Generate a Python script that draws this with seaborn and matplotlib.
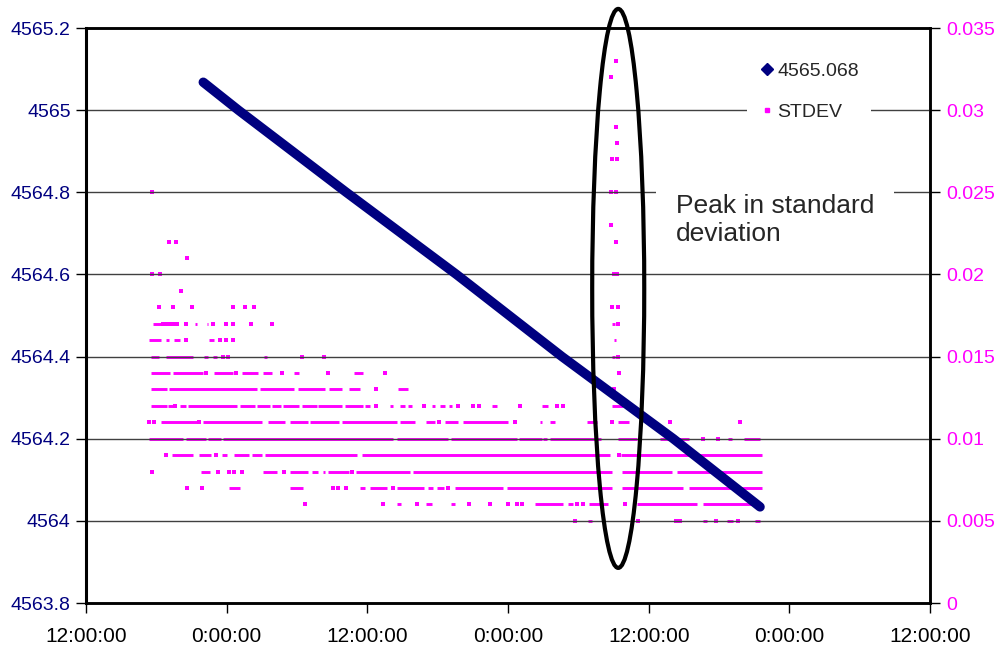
import matplotlib
matplotlib.use("Agg")
import matplotlib.pyplot as plt
import seaborn as sns
import pandas as pd
from matplotlib.patches import Ellipse
from matplotlib.lines import Line2D
from matplotlib.ticker import FuncFormatter

sns.set_style("white")
plt.rcParams["font.family"] = ["Liberation Sans", "DejaVu Sans"]

NAVY = "#000080"
MAGENTA = "#ff00ff"

# hours after the first 12:00:00 tick
pos_hours = [10.0, 13.0, 22.2, 31.6, 40.6, 50.1, 57.5]
pos_value = [4565.068, 4565.0, 4564.8, 4564.6, 4564.4, 4564.2, 4564.034]

# STDEV: (level, start hour, end hour) where samples sit continuously
stdev_runs = [
    (0.017, 5.7, 6.4), (0.017, 9.3, 9.5), (0.017, 10.3, 10.4), (0.017, 44.9, 45.1),
    (0.016, 5.4, 6.4), (0.016, 6.8, 7.1), (0.016, 7.5, 8.0), (0.016, 10.5, 10.9), (0.016, 45.0, 45.2),
    (0.015, 5.5, 6.2), (0.015, 6.8, 9.1), (0.015, 10.1, 10.4), (0.015, 10.8, 11.2), (0.015, 15.2, 15.4),
    (0.015, 44.9, 45.1),
    (0.014, 5.5, 7.2), (0.014, 7.4, 10.0), (0.014, 10.9, 12.5), (0.014, 13.3, 14.7), (0.014, 15.1, 15.9),
    (0.014, 17.7, 18.2), (0.014, 22.9, 23.6),
    (0.013, 5.5, 6.9), (0.013, 7.1, 14.6), (0.013, 14.8, 17.7), (0.013, 18.1, 20.4), (0.013, 20.7, 21.8),
    (0.013, 22.4, 23.4), (0.013, 26.6, 27.5),
    (0.012, 5.5, 6.9), (0.012, 7.0, 7.4), (0.012, 8.0, 8.5), (0.012, 8.7, 12.9), (0.012, 13.1, 14.4),
    (0.012, 14.6, 15.7), (0.012, 15.9, 16.6), (0.012, 16.8, 18.2), (0.012, 18.4, 19.7), (0.012, 19.8, 21.8),
    (0.012, 22.1, 23.6), (0.012, 23.8, 24.2), (0.012, 25.9, 26.2), (0.012, 26.8, 27.2), (0.012, 27.5, 27.8),
    (0.012, 29.5, 29.8), (0.012, 30.2, 30.6), (0.012, 31.0, 31.2), (0.012, 34.6, 35.1), (0.012, 38.9, 39.4),
    (0.012, 44.9, 45.8),
    (0.011, 6.4, 9.5), (0.011, 10.0, 15.0), (0.011, 15.5, 17.0), (0.011, 17.4, 18.9), (0.011, 19.1, 21.6),
    (0.011, 21.8, 26.5), (0.011, 26.8, 28.1), (0.011, 29.0, 29.8), (0.011, 30.6, 31.7), (0.011, 32.2, 36.0),
    (0.011, 38.7, 38.9), (0.011, 39.6, 40.0), (0.011, 42.7, 43.6), (0.011, 45.4, 46.3),
    (0.010, 5.4, 8.3), (0.010, 8.5, 10.2), (0.010, 10.4, 11.5), (0.010, 11.7, 26.2), (0.010, 26.5, 30.9),
    (0.010, 31.1, 36.8), (0.010, 36.9, 38.9), (0.010, 39.0, 39.3), (0.010, 39.6, 43.9), (0.010, 45.4, 47.0),
    (0.010, 49.0, 50.0), (0.010, 50.6, 51.4), (0.010, 54.8, 55.1), (0.010, 56.1, 57.5),
    (0.009, 7.3, 9.1), (0.009, 9.6, 10.7), (0.009, 11.6, 12.0), (0.009, 12.6, 13.9), (0.009, 14.2, 15.0),
    (0.009, 15.3, 23.1), (0.009, 23.5, 44.7), (0.009, 45.6, 57.7),
    (0.008, 9.8, 10.6), (0.008, 15.1, 16.3), (0.008, 17.4, 18.9), (0.008, 19.3, 19.8), (0.008, 20.2, 20.4),
    (0.008, 20.6, 22.4), (0.008, 23.0, 27.6), (0.008, 27.9, 44.9), (0.008, 45.7, 50.0), (0.008, 50.4, 57.7),
    (0.007, 12.2, 13.1), (0.007, 17.4, 18.5), (0.007, 23.4, 23.8), (0.007, 24.2, 25.7), (0.007, 26.5, 28.8),
    (0.007, 29.2, 29.6), (0.007, 29.9, 30.5), (0.007, 31.5, 35.6), (0.007, 35.9, 44.9), (0.007, 45.7, 50.9),
    (0.007, 51.4, 57.7),
    (0.006, 26.5, 26.9), (0.006, 29.0, 29.5), (0.006, 31.1, 31.5), (0.006, 38.3, 40.7), (0.006, 41.1, 41.5),
    (0.006, 42.9, 44.5), (0.006, 47.0, 52.1), (0.006, 52.6, 57.7),
    (0.005, 42.8, 43.2), (0.005, 52.6, 53.0), (0.005, 54.7, 55.2), (0.005, 57.1, 57.5),
]

# STDEV: isolated samples (level, hour)
stdev_dots = [
    (0.033, 45.2), (0.032, 44.8), (0.029, 45.2), (0.028, 45.3), (0.027, 44.9), (0.027, 45.3),
    (0.025, 5.6), (0.025, 44.8), (0.025, 45.2), (0.023, 44.8),
    (0.022, 7.1), (0.022, 7.7), (0.022, 45.2), (0.021, 8.6),
    (0.020, 5.6), (0.020, 6.3), (0.020, 45.0), (0.020, 45.3), (0.019, 8.1),
    (0.018, 6.2), (0.018, 7.4), (0.018, 9.0), (0.018, 12.5), (0.018, 13.6), (0.018, 14.3),
    (0.018, 44.9), (0.018, 45.4),
    (0.017, 6.6), (0.017, 6.7), (0.017, 7.1), (0.017, 7.4), (0.017, 7.8), (0.017, 8.5), (0.017, 10.8),
    (0.017, 11.9), (0.017, 12.5), (0.017, 14.1), (0.017, 15.9), (0.017, 45.4),
    (0.016, 8.5), (0.016, 11.4), (0.016, 11.9), (0.016, 12.5),
    (0.015, 11.7), (0.015, 12.1), (0.015, 18.4), (0.015, 20.3), (0.015, 45.4),
    (0.014, 10.2), (0.014, 12.8), (0.014, 16.7), (0.014, 20.6), (0.014, 25.5), (0.014, 45.5),
    (0.013, 24.7), (0.013, 45.0),
    (0.012, 7.6), (0.012, 24.7), (0.012, 28.8), (0.012, 31.7), (0.012, 33.0), (0.012, 33.5),
    (0.012, 37.0), (0.012, 40.2), (0.012, 40.7),
    (0.011, 5.4), (0.011, 5.8), (0.011, 9.6), (0.011, 30.1), (0.011, 36.6), (0.011, 44.9),
    (0.011, 49.8), (0.011, 55.8),
    (0.010, 52.6), (0.010, 53.9),
    (0.009, 6.8), (0.009, 11.1), (0.009, 45.5),
    (0.008, 5.6), (0.008, 11.3), (0.008, 12.2), (0.008, 12.6), (0.008, 13.3), (0.008, 16.9), (0.008, 22.7),
    (0.007, 8.6), (0.007, 9.9), (0.007, 21.1), (0.007, 21.5), (0.007, 22.2), (0.007, 26.2), (0.007, 30.9),
    (0.006, 18.7), (0.006, 25.3), (0.006, 28.2), (0.006, 32.7), (0.006, 34.5), (0.006, 36.0),
    (0.006, 36.8), (0.006, 37.2), (0.006, 41.9), (0.006, 42.4), (0.006, 46.0),
    (0.005, 41.7), (0.005, 47.1), (0.005, 50.3), (0.005, 50.7), (0.005, 53.7), (0.005, 55.6),
]

x_ticks = [0, 12, 24, 36, 48, 60, 72]
x_labels = ["12:00:00", "0:00:00", "12:00:00", "0:00:00", "12:00:00", "0:00:00", "12:00:00"]
left_ticks = [4563.8, 4564.0, 4564.2, 4564.4, 4564.6, 4564.8, 4565.0, 4565.2]
right_ticks = [0, 0.005, 0.01, 0.015, 0.02, 0.025, 0.03, 0.035]

runs = pd.DataFrame(stdev_runs, columns=["level", "start", "end"])
dots = pd.DataFrame(stdev_dots, columns=["level", "hour"])
pos = pd.DataFrame({"hour": pos_hours, "value": pos_value})

fig = plt.figure(figsize=(9.98, 6.47), dpi=100)
ax = fig.add_axes([0.0862, 0.068, 0.8457, 0.8887])
ax2 = ax.twinx()

# STDEV on the right axis
ax2.hlines(runs["level"], runs["start"], runs["end"], color=MAGENTA, linewidth=2.1)
sns.scatterplot(data=dots, x="hour", y="level", ax=ax2, marker="s", s=8,
                color=MAGENTA, linewidth=0, legend=False)

# position on the left axis, drawn above STDEV
ax.set_zorder(ax2.get_zorder() + 1)
ax.patch.set_visible(False)
sns.lineplot(data=pos, x="hour", y="value", ax=ax, color=NAVY, linewidth=6.8,
             solid_capstyle="round", solid_joinstyle="round", legend=False, zorder=3)

ax.set_xlim(0, 72)
ax.set_ylim(4563.8, 4565.2)
ax2.set_ylim(0, 0.035)
ax.set_xticks(x_ticks)
ax.set_xticklabels(x_labels)
ax.set_yticks(left_ticks)
ax2.set_yticks(right_ticks)
fmt = FuncFormatter(lambda v, p: f"{v:g}")
ax.yaxis.set_major_formatter(fmt)
ax2.yaxis.set_major_formatter(fmt)
ax.set_xlabel("")
ax.set_ylabel("")
ax2.set_ylabel("")

ax.yaxis.grid(True, color="#404040", linewidth=1)
ax.set_axisbelow(True)

ax.tick_params(axis="y", direction="out", length=7, width=1, color="black",
               labelcolor=NAVY, labelsize=14, pad=4, left=True)
ax.tick_params(axis="x", direction="out", length=7, width=1, color="black",
               labelcolor="black", labelsize=15, pad=10, bottom=True)
ax2.tick_params(axis="y", direction="out", length=7, width=1, color="black",
                labelcolor=MAGENTA, labelsize=14, pad=5, right=True)
for a in (ax, ax2):
    for side in ("top", "right", "bottom", "left"):
        a.spines[side].set_visible(True)
        a.spines[side].set_color("black")
        a.spines[side].set_linewidth(1.8)
ax.spines["left"].set_linewidth(2.2)

ell = Ellipse((45.4, 4564.566), width=4.44, height=1.361, fill=False,
              edgecolor="black", linewidth=3, clip_on=False, zorder=6)
ax.add_patch(ell)

ax.text(50.3, 4564.795, "Peak in standard\ndeviation", fontsize=19, va="top", ha="left",
        zorder=5, bbox=dict(facecolor="white", edgecolor="none", pad=14))

handles = [
    Line2D([], [], marker="D", color=NAVY, linestyle="none", markersize=6, label="4565.068"),
    Line2D([], [], marker="s", color=MAGENTA, linestyle="none", markersize=2.2, label="STDEV"),
]
leg = ax.legend(handles=handles, loc="upper left", bbox_to_anchor=(0.772, 0.977),
                frameon=True, facecolor="white", edgecolor="none", framealpha=1,
                fontsize=14, handlelength=0.8, handletextpad=0.15,
                labelspacing=1.2, borderpad=0.6)
leg.set_zorder(7)

fig.savefig("out.png", dpi=100)
